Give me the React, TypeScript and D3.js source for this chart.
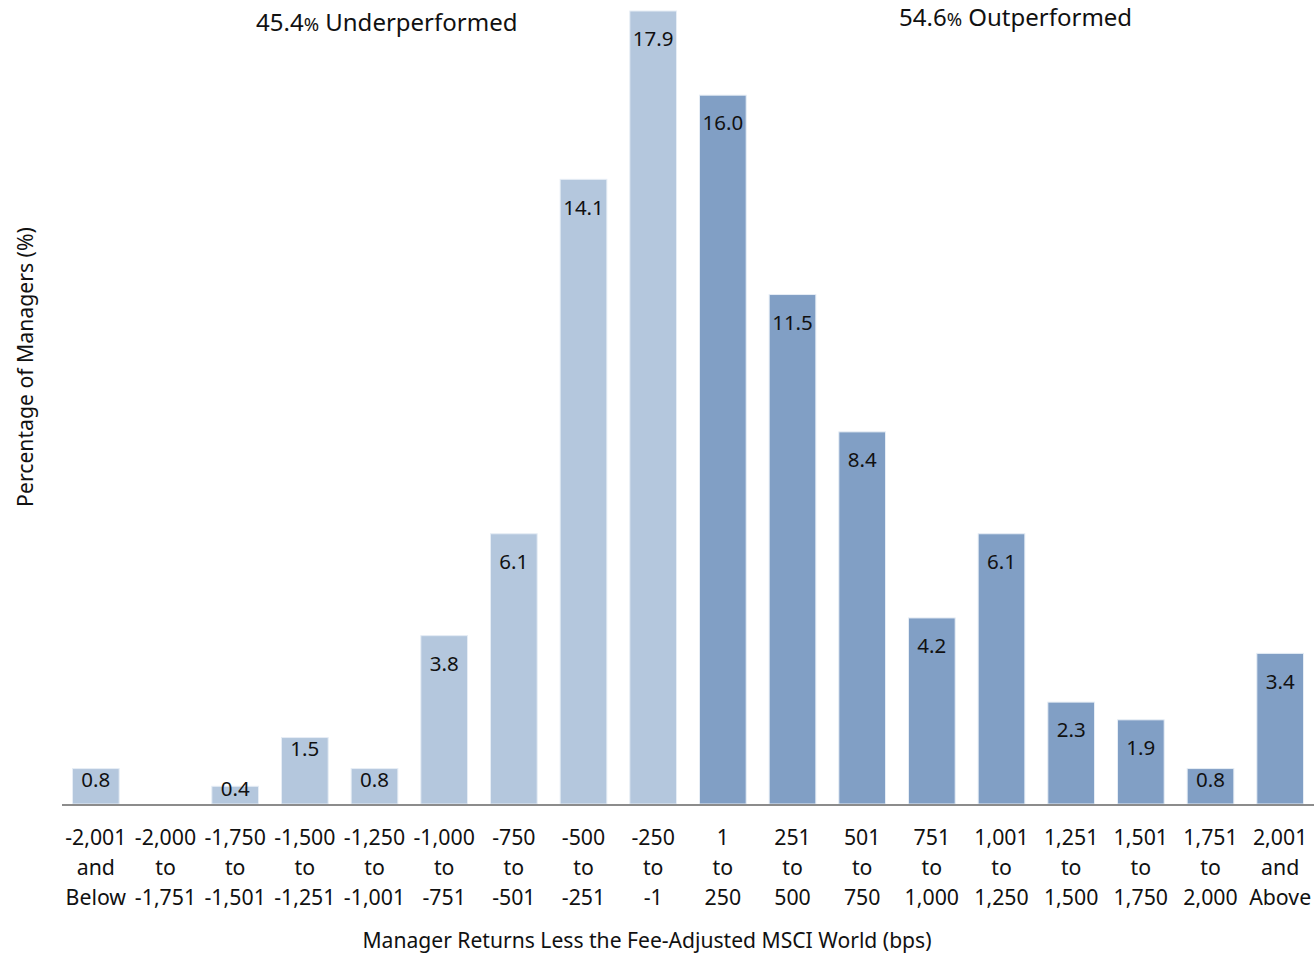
import React from "react";
import * as d3 from "d3";

// Return buckets (bps), split into three text lines each
const bucketLines: string[][] = [
  ["-2,001", "and", "Below"],
  ["-2,000", "to", "-1,751"],
  ["-1,750", "to", "-1,501"],
  ["-1,500", "to", "-1,251"],
  ["-1,250", "to", "-1,001"],
  ["-1,000", "to", "-751"],
  ["-750", "to", "-501"],
  ["-500", "to", "-251"],
  ["-250", "to", "-1"],
  ["1", "to", "250"],
  ["251", "to", "500"],
  ["501", "to", "750"],
  ["751", "to", "1,000"],
  ["1,001", "to", "1,250"],
  ["1,251", "to", "1,500"],
  ["1,501", "to", "1,750"],
  ["1,751", "to", "2,000"],
  ["2,001", "and", "Above"],
];

// Percentage of managers in each bucket (null = no managers)
const shares: (number | null)[] = [
  0.8, null, 0.4, 1.5, 0.8, 3.8, 6.1, 14.1, 17.9,
  16.0, 11.5, 8.4, 4.2, 6.1, 2.3, 1.9, 0.8, 3.4,
];

// Number of leading buckets that underperformed
const underCount = 9;

const underLabel = { value: "45.4", text: " Underperformed" };
const overLabel = { value: "54.6", text: " Outperformed" };

const W = 1314;
const H = 955;
const FONT = "'Noto Sans', 'Open Sans', sans-serif";

export default function App() {
  const baseline = 804;
  const x = d3
    .scaleBand<number>()
    .domain(d3.range(bucketLines.length))
    .range([61, 1315])
    .paddingInner(0.33)
    .paddingOuter(0.165);
  const y = d3.scaleLinear().domain([0, 17.9]).range([baseline, 11]);

  const light = "#b4c7dd";
  const dark = "#819fc5";

  return (
    <svg
      width={W}
      height={H}
      style={{ position: "absolute", left: 0, top: 0, background: "#fff" }}
      fontFamily={FONT}
    >
      {shares.map((v, i) => {
        if (v == null) return null;
        const top = y(v);
        const h = baseline - top;
        const off = v < 1.8 ? Math.min(11, h / 2 - 6) : 28;
        return (
          <g key={i}>
            <rect
              x={x(i)}
              y={top}
              width={x.bandwidth()}
              height={h}
              fill={i < underCount ? light : dark}
              stroke="#e6edf5"
              strokeWidth={1}
            />
            <text
              x={(x(i) as number) + x.bandwidth() / 2}
              y={top + off}
              dy="0.35em"
              textAnchor="middle"
              fontSize={20.5}
              fill="#111"
            >
              {v.toFixed(1)}
            </text>
          </g>
        );
      })}

      <line x1={62} x2={1314} y1={baseline + 1} y2={baseline + 1} stroke="#8c8c8c" strokeWidth={2} />

      {bucketLines.map((lines, i) => (
        <text
          key={i}
          x={(x(i) as number) + x.bandwidth() / 2}
          textAnchor="middle"
          fontSize={21.3}
          fill="#111"
        >
          {lines.map((l, j) => (
            <tspan key={j} x={(x(i) as number) + x.bandwidth() / 2} y={845 + j * 30}>
              {l}
            </tspan>
          ))}
        </text>
      ))}

      <text x={647} y={948} textAnchor="middle" fontSize={21.1} fill="#111">
        Manager Returns Less the Fee-Adjusted MSCI World (bps)
      </text>

      <text
        transform="translate(33,367) rotate(-90)"
        textAnchor="middle"
        fontSize={21.2}
        fill="#111"
      >
        Percentage of Managers (%)
      </text>

      <text x={256} y={31} fontSize={24} fill="#111">
        {underLabel.value}
        <tspan fontSize={18.5}>%</tspan>
        {underLabel.text}
      </text>
      <text x={899} y={26} fontSize={24} fill="#111">
        {overLabel.value}
        <tspan fontSize={18.5}>%</tspan>
        {overLabel.text}
      </text>
    </svg>
  );
}
